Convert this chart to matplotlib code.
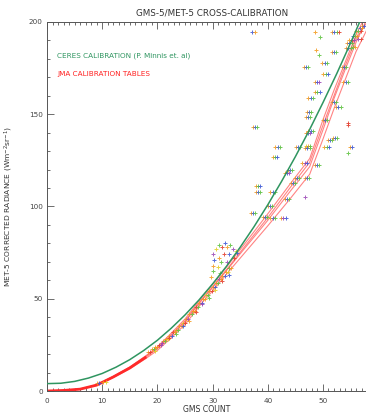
import matplotlib
matplotlib.use("Agg")
import matplotlib.pyplot as plt
from matplotlib.ticker import MultipleLocator

# ---------------- data ----------------
title = "GMS-5/MET-5 CROSS-CALIBRATION"
xlabel = "GMS COUNT"
ylabel = "MET-5 CORRECTED RADIANCE (Wm$^{-2}$sr$^{-1}$)"
legend_ceres = "CERES CALIBRATION (P. Minnis et. al)"
legend_jma = "JMA CALIBRATION TABLES"

x_ticks = [0, 10, 20, 30, 40, 50]
y_ticks = [0, 50, 100, 150, 200]

ceres_count = [0, 2.5, 5, 7.5, 10, 12.5, 15, 17.5, 20, 22.5, 25, 27.5, 30, 32.5,
               35, 37.5, 40, 42.5, 45, 47.5, 50, 52.5, 55, 57]
ceres_rad = [4.0, 4.2, 5.2, 7.0, 9.5, 12.9, 17.0, 21.9, 27.5, 34.0, 41.2, 49.2, 58.0, 67.5,
             77.9, 89.0, 100.9, 113.6, 127.0, 141.2, 156.3, 172.0, 188.6, 202.4]

jma_count = [0, 3, 6, 9, 12, 15, 18, 20, 22, 25, 28, 30, 33, 36, 40, 44, 47.6, 50, 52, 54, 56, 58]
jma_a = [0, 0.3, 1.0, 3.2, 7.6, 12.5, 18.5, 23.0, 28.5, 37.5, 49.0, 56.0, 67.0, 78.0, 92.5, 108.0, 121.6, 141.5, 158.5, 174.0, 189.0, 202.0]
jma_b = [0, 0.3, 1.1, 3.4, 7.9, 13.0, 19.3, 24.0, 29.8, 39.0, 50.5, 57.8, 69.0, 80.5, 96.0, 112.0, 126.0, 147.0, 163.0, 178.0, 193.0, 205.0]
jma_c = [0, 0.2, 0.9, 3.0, 7.3, 12.0, 17.8, 22.0, 27.4, 36.0, 47.5, 54.2, 65.0, 75.5, 89.5, 104.0, 117.5, 136.5, 153.0, 168.5, 184.0, 196.0]
jma_d = [0, 0.3, 1.0, 3.3, 7.8, 12.8, 19.0, 23.5, 29.0, 38.0, 49.5, 56.5, 67.5, 79.0, 94.0, 110.0, 124.0, 144.0, 160.0, 176.0, 191.0, 200.0]

# observation groups: GMS count, radiance, colour codes of the side-by-side markers
obs_count = [
    9.3, 10.4,
    18.5, 19.2, 19.8, 20.5, 21.2, 21.8, 22.4, 23.0, 23.6, 24.2, 24.8, 25.4, 26.0, 26.6,
    27.2, 27.8, 28.4, 29.0, 29.6, 30.2, 30.8, 31.4, 32.0, 32.6, 33.2,
    19.6, 20.9, 22.1, 23.3, 24.6, 25.8, 27.0, 28.1, 29.3, 30.5, 31.7, 32.9,
    30.0, 30.0, 30.2, 30.1, 30.6, 31.1, 31.7, 32.2, 32.7, 33.2, 33.7, 34.2, 33.0, 32.0,
    31.1, 31.6, 32.6, 33.9, 34.4, 30.9, 29.8, 31.3,
    37.7, 41.8, 41.3, 45.5, 47.3, 47.3, 47.3, 50.4, 51.3, 50.7, 46.7, 48.9, 44.0, 43.5,
    45.3, 47.1, 38.2, 38.2, 40.9, 44.6, 46.7, 43.5, 40.4, 37.3, 39.5, 40.9, 42.8,
    48.7, 49.3, 52.0, 54.8, 46.9, 50.3, 50.5, 53.8, 48.9, 49.0, 52.0, 54.1, 47.8, 54.5,
    52.8, 47.5, 47.8, 52.2, 47.2, 55.1, 54.5, 54.5,
    37.4, 48.5, 49.5, 52.3,
    54.6, 55.2, 55.8, 56.4, 56.9, 55.6, 56.6, 57.2,
]
obs_rad = [
    4.5, 5.0,
    21.0, 22.5, 24.0, 25.0, 27.0, 28.0, 30.0, 32.0, 33.0, 35.5, 37.0, 39.0, 41.5, 43.5,
    45.5, 47.5, 50.0, 52.0, 54.0, 56.5, 58.5, 60.5, 62.5, 64.5, 66.5,
    21.5, 26.0, 28.5, 31.0, 35.0, 38.0, 43.0, 47.0, 50.5, 55.0, 59.5, 63.0,
    65.0, 68.0, 71.0, 74.0, 77.0, 79.0, 78.0, 80.0, 78.0, 79.0, 77.0, 76.0, 74.0, 74.0,
    72.0, 70.0, 70.0, 72.0, 75.0, 67.0, 62.0, 64.0,
    143.0, 132.0, 127.0, 132.0, 133.0, 140.0, 148.5, 147.0, 136.0, 132.0, 123.5, 122.5, 120.0, 118.0,
    115.5, 115.5, 111.0, 108.0, 108.0, 112.7, 105.0, 104.0, 100.0, 96.5, 94.3, 93.8, 93.8,
    185.0, 182.0, 184.0, 188.6, 175.6, 177.8, 172.0, 175.6, 167.5, 162.0, 156.6, 167.5, 159.0, 144.0,
    154.0, 151.0, 141.0, 137.0, 131.7, 132.0, 129.0, 145.0,
    194.5, 194.5, 192.0, 194.5,
    186.0, 190.0, 192.5, 195.0, 197.0, 186.5, 191.0, 198.0,
]
obs_colors = [
    "ob", "oy",
    "or", "og", "oo", "rp", "og", "oy", "ob", "ro", "og", "oo", "yr", "op", "og", "oo",
    "rg", "ob", "oo", "yg", "or", "ob", "og", "po", "ob", "oy", "go",
    "y", "p", "r", "g", "b", "o", "r", "p", "g", "y", "r", "b",
    "g", "o", "b", "p", "y", "g", "r", "b", "o", "g", "p", "y", "b", "r",
    "o", "g", "p", "r", "b", "y", "o", "g",
    "obg", "obg", "ogb", "obg", "yog", "obp", "obg", "obg", "obg", "ogb", "opb", "obg", "obg", "obp",
    "obg", "obg", "ogb", "obg", "obg", "obg", "p", "obg", "obg", "obg", "obg", "obg", "opb",
    "o", "g", "obg", "obg", "obg", "obg", "ogb", "obg", "obp", "ogb", "obg", "obg", "obg", "r",
    "obg", "obg", "obg", "obg", "obg", "ob", "g", "r",
    "bo", "o", "g", "obgr",
    "obg", "orp", "bgo", "ogr", "bo", "go", "pr", "ob",
]

# ---------------- styles ----------------
COLORS = {"o": "#f39a1c", "b": "#3a55d8", "g": "#5cc23c", "p": "#9a45b5",
          "r": "#e23a2a", "y": "#e2cf22"}
MARK_STEP = 0.42  # horizontal spacing (GMS counts) between grouped markers
GREEN = "#2f9560"
RED = "#ff2a2a"
GRAY = "#555555"

W, H = 366, 415
fig = plt.figure(figsize=(W / 100, H / 100), dpi=100)
ax = fig.add_axes([47 / W, (H - 391) / H, (W - 47) / W, (391 - 22) / H])

ax.set_xlim(0, 57.8)
ax.set_ylim(0, 200)

# JMA tables
for ys in (jma_a, jma_b, jma_c, jma_d):
    ax.plot(jma_count, ys, color="#ff5a5a", lw=0.8, alpha=0.75, zorder=2,
            solid_joinstyle="round")
ax.plot(jma_count[:7], jma_a[:7], color=RED, lw=2.0, zorder=2.5,
        solid_capstyle="butt", solid_joinstyle="round")

# observations
for cx, cy, codes in zip(obs_count, obs_rad, obs_colors):
    n = len(codes)
    for k, code in enumerate(codes):
        ax.plot(cx + (k - (n - 1) / 2) * MARK_STEP, cy, marker="+", ms=2.6,
                mew=0.7, color=COLORS[code], ls="none", zorder=3, alpha=0.85)

# CERES calibration
ax.plot(ceres_count, ceres_rad, color=GREEN, lw=1.1, zorder=4)

# axes styling
for side in ("left", "bottom", "top"):
    ax.spines[side].set_color(GRAY)
    ax.spines[side].set_linewidth(0.7)
ax.spines["right"].set_visible(False)

ax.set_xticks(x_ticks)
ax.set_yticks(y_ticks)
ax.set_yticklabels([str(v) for v in y_ticks])
ax.xaxis.set_minor_locator(MultipleLocator(1))
ax.yaxis.set_minor_locator(MultipleLocator(10))
ax.tick_params(axis="both", which="both", direction="in", top=True, right=False,
               color=GRAY, width=0.6, labelcolor="#444444", labelsize=5.2)
ax.tick_params(axis="both", which="major", length=5)
ax.tick_params(axis="both", which="minor", length=2.5)
ax.tick_params(axis="x", which="major", pad=5)
ax.tick_params(axis="y", which="major", pad=3)

ax.set_xlabel(xlabel, fontsize=5.6, color="#333333", labelpad=1)
ax.set_ylabel(ylabel, fontsize=5.4, color="#333333", labelpad=10)

fig.text(212 / W, 1 - 13 / H, title, ha="center", va="center",
         fontsize=6.3, color="#333333")

ax.text(57 / W, 1 - 56 / H, legend_ceres, transform=fig.transFigure,
        ha="left", va="center", fontsize=5.2, color=GREEN)
ax.text(57 / W, 1 - 74 / H, legend_jma, transform=fig.transFigure,
        ha="left", va="center", fontsize=5.2, color="#ff2020")

fig.savefig("out.png", dpi=100)
